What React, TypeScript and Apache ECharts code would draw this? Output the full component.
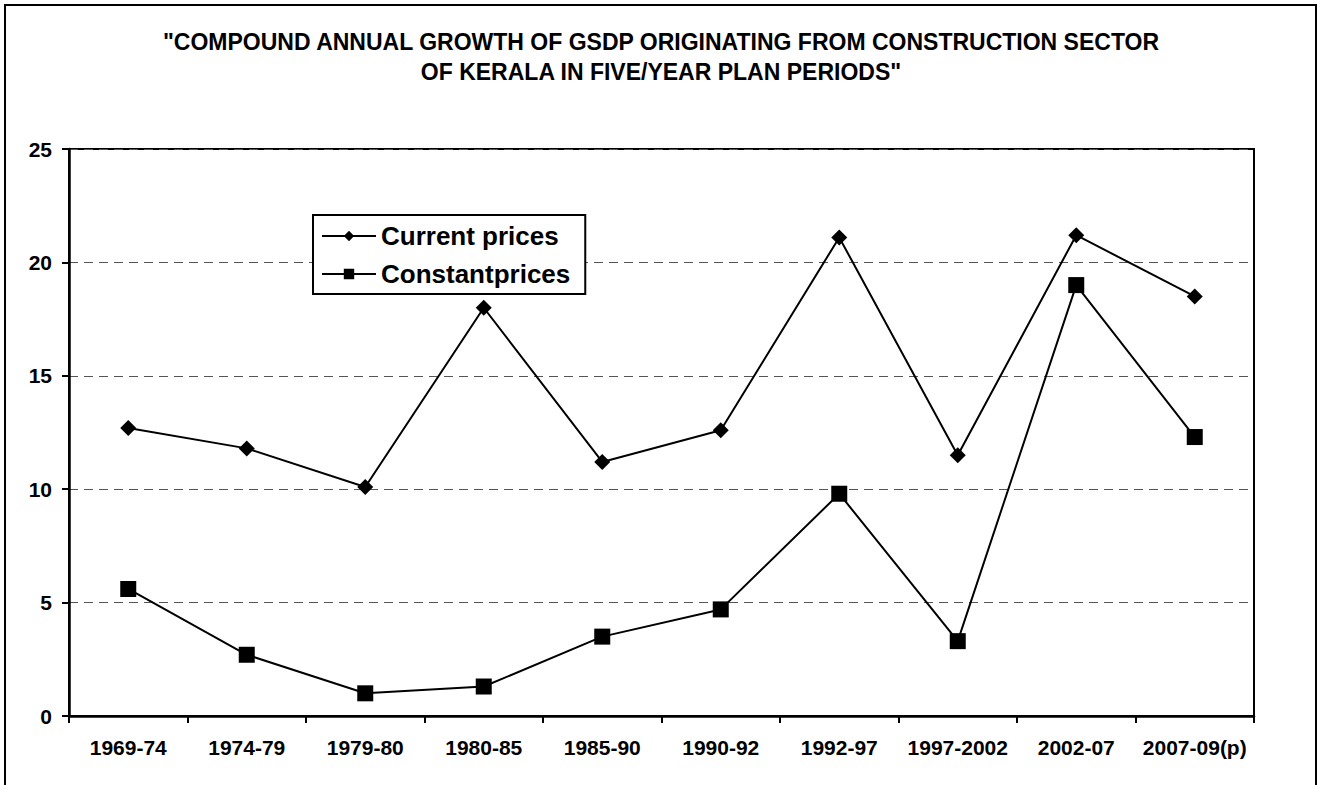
import React, { useEffect, useRef } from "react";
import * as echarts from "echarts";

const categories = ["1969-74", "1974-79", "1979-80", "1980-85", "1985-90", "1990-92", "1992-97", "1997-2002", "2002-07", "2007-09(p)"];
const currentPrices = [12.7, 11.8, 10.1, 18.0, 11.2, 12.6, 21.1, 11.5, 21.2, 18.5];
const constantPrices = [5.6, 2.7, 1.0, 1.3, 3.5, 4.7, 9.8, 3.3, 19.0, 12.3];
const titleText = '"COMPOUND ANNUAL GROWTH OF GSDP ORIGINATING FROM CONSTRUCTION SECTOR\nOF KERALA IN FIVE/YEAR PLAN PERIODS"';

export default function App() {
  const ref = useRef<HTMLDivElement>(null);
  useEffect(() => {
    document.body.style.margin = "0";
    const chart = echarts.init(ref.current!, null, { renderer: "svg" });
    const font = "Liberation Sans, Arial, sans-serif";
    chart.setOption({
      animation: false,
      backgroundColor: "#ffffff",
      graphic: [
        {
          type: "rect",
          shape: { x: 5, y: 5, width: 1311, height: 800 },
          style: { fill: "none", stroke: "#000", lineWidth: 2 },
          silent: true,
        },
        {
          type: "text",
          x: 661,
          y: 27,
          style: {
            text: titleText,
            align: "center",
            verticalAlign: "top",
            fontFamily: font,
            fontWeight: "bold",
            fontSize: 23,
            lineHeight: 30,
            fill: "#000",
          },
          silent: true,
        },
      ],
      legend: {
        orient: "vertical",
        left: 313,
        top: 215,
        padding: [6, 15, 5, 8],
        itemGap: 8,
        itemWidth: 54,
        itemHeight: 13,
        borderColor: "#000",
        borderWidth: 2,
        backgroundColor: "#fff",
        textStyle: { fontFamily: font, fontWeight: "bold", fontSize: 26, lineHeight: 30, color: "#000" },
        data: ["Current prices", "Constantprices"],
      },
      grid: { left: 69, right: 69, top: 149, bottom: 69, show: true, borderColor: "#000", borderWidth: 2 },
      xAxis: {
        type: "category",
        data: categories,
        boundaryGap: true,
        axisLine: { lineStyle: { color: "#000", width: 2.5 } },
        axisTick: { show: true, alignWithLabel: false, length: 7, lineStyle: { color: "#000", width: 2 } },
        axisLabel: { interval: 0, margin: 21, fontFamily: font, fontWeight: "bold", fontSize: 21, color: "#000" },
        splitLine: { show: false },
      },
      yAxis: {
        type: "value",
        min: 0,
        max: 25,
        interval: 5,
        axisLine: { show: true, lineStyle: { color: "#000", width: 2.5 } },
        axisTick: { show: true, length: 7, lineStyle: { color: "#000", width: 2 } },
        axisLabel: { margin: 17, fontFamily: font, fontWeight: "bold", fontSize: 21, color: "#000" },
        splitLine: { show: true, lineStyle: { color: "#555", type: [9, 6], width: 1 } },
      },
      series: [
        {
          name: "Current prices",
          type: "line",
          data: currentPrices,
          symbol: "diamond",
          symbolSize: 16,
          lineStyle: { color: "#000", width: 2 },
          itemStyle: { color: "#000" },
        },
        {
          name: "Constantprices",
          type: "line",
          data: constantPrices,
          symbol: "rect",
          symbolSize: 16,
          lineStyle: { color: "#000", width: 2 },
          itemStyle: { color: "#000" },
        },
      ],
    });
    return () => chart.dispose();
  }, []);
  return <div ref={ref} style={{ position: "absolute", left: 0, top: 0, width: 1323, height: 785 }} />;
}
